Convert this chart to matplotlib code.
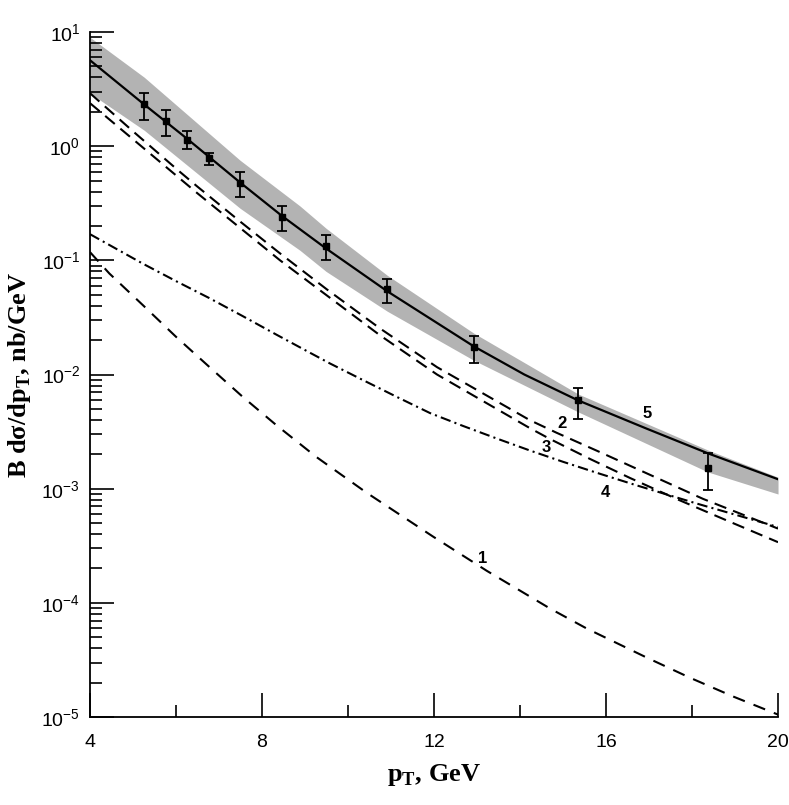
import numpy as np
import matplotlib
matplotlib.use("Agg")
import matplotlib.pyplot as plt
from matplotlib.ticker import FixedLocator, FuncFormatter, NullFormatter

plt.rcParams['font.family'] = ['Liberation Sans', 'DejaVu Sans']
plt.rcParams['mathtext.fontset'] = 'custom'
plt.rcParams['mathtext.rm'] = 'Liberation Serif:bold'
plt.rcParams['mathtext.sf'] = 'Liberation Sans'

# data points with error bars
pt_x = [5.26, 5.76, 6.26, 6.76, 7.49, 8.47, 9.49, 10.91, 12.92, 15.34, 18.37]
pt_y = [2.33, 1.67, 1.14, 0.79, 0.478, 0.238, 0.133, 0.056, 0.0175, 0.00597, 0.00153]
pt_hi = [2.93, 2.09, 1.36, 0.875, 0.596, 0.298, 0.166, 0.0693, 0.0217, 0.00766, 0.00206]
pt_lo = [1.69, 1.23, 0.95, 0.68, 0.357, 0.18, 0.100, 0.0419, 0.0125, 0.00408, 0.00097]

# curve 5 (solid) and its gray band
c5_x = [4.0, 5.26, 6.26, 7.49, 8.47, 9.49, 10.91, 12.92, 14.1, 15.34, 16.95, 18.37, 20.0]
c5_y = [5.66, 2.32, 1.16, 0.481, 0.244, 0.127, 0.0537, 0.0177, 0.0100, 0.00596, 0.00335, 0.00204, 0.00121]
band_x = [4.0, 5.26, 7.49, 8.88, 9.49, 10.91, 12.92, 15.36, 18.37, 20.0]
band_hi = [9.0, 4.02, 0.753, 0.30, 0.191, 0.0741, 0.0231, 0.00673, 0.00218, 0.00126]
band_lo = [2.91, 1.38, 0.286, 0.1227, 0.080, 0.0359, 0.01336, 0.00469, 0.0014, 0.000898]

# curve 2 (dashed, upper)
c2_x = [4.0, 5.0, 6.09, 6.49, 7.49, 8.42, 9.51, 10.74, 12.07, 14.23, 14.85, 15.86, 16.86, 18.26, 20.0]
c2_y = [2.91, 1.35, 0.596, 0.445, 0.219, 0.115, 0.0556, 0.0254, 0.0116, 0.00398, 0.00309, 0.00209,
        0.00141, 0.000813, 0.000447]

# curve 3 (dashed, lower)
c3_x = [4.0, 5.0, 6.49, 8.42, 10.74, 12.07, 14.23, 14.7, 15.63, 16.56, 17.64, 18.88, 20.0]
c3_y = [2.38, 1.15, 0.389, 0.100, 0.0221, 0.0100, 0.00339, 0.00272, 0.00182, 0.00124, 0.000813,
        0.000513, 0.00034]

# curve 4 (dash-dot)
c4_x = [4.0, 5.23, 6.0, 6.77, 7.55, 8.33, 9.09, 9.58, 10.35, 11.13, 11.91, 12.67, 13.46, 14.23,
        15.0, 15.78, 16.71, 18.11, 19.35, 20.0]
c4_y = [0.1695, 0.0935, 0.0658, 0.0468, 0.0325, 0.0224, 0.0157, 0.0125, 0.00893, 0.00638, 0.00459,
        0.00355, 0.00275, 0.00216, 0.00172, 0.00138, 0.00107, 0.000741, 0.000543, 0.000462]

# curve 1 (dashed, lowest)
c1_x = [4.0, 4.45, 5.23, 6.0, 6.77, 7.55, 8.33, 9.26, 10.43, 11.98, 13.23, 14.7, 15.55, 16.95,
        17.95, 18.96, 20.0]
c1_y = [0.118, 0.0767, 0.0405, 0.0214, 0.0117, 0.00638, 0.00361, 0.0019, 0.000923, 0.000380,
        0.0001905, 0.0000891, 0.0000596, 0.0000331, 0.0000221, 0.0000151, 0.0000105]

# curve labels
lab_txt = ['1', '2', '3', '4', '5']
lab_x = [13.14, 14.98, 14.6, 15.98, 16.95]
lab_y = [0.000247, 0.00375, 0.00231, 0.000933, 0.00459]

# axis ticks
x_major = [4, 8, 12, 16, 20]
x_minor = [6, 10, 14, 18]
y_exp = [-5, -4, -3, -2, -1, 0, 1]

fig = plt.figure(figsize=(7.89, 8.05), dpi=100)
ax = fig.add_axes([0.1141, 0.1093, 0.8720, 0.8509])

ax.fill_between(band_x, band_lo, band_hi, color='#b3b3b3', lw=0, zorder=1)
ax.plot(c5_x, c5_y, color='black', lw=1.6, zorder=4)
ax.plot(c2_x, c2_y, color='black', lw=1.5, dashes=(6, 3.5), zorder=3)
ax.plot(c3_x, c3_y, color='black', lw=1.5, dashes=(6, 3.5), zorder=3)
ax.plot(c4_x, c4_y, color='black', lw=1.5, dashes=(5, 2, 1, 2), zorder=3)
ax.plot(c1_x, c1_y, color='black', lw=1.5, dashes=(6, 4.5), zorder=3)

yerr = [np.array(pt_y) - np.array(pt_lo), np.array(pt_hi) - np.array(pt_y)]
ax.errorbar(pt_x, pt_y, yerr=yerr, fmt='s', color='black', ms=4.5, capsize=3.5,
            elinewidth=1.3, capthick=1.3, zorder=5)

for t, x, y in zip(lab_txt, lab_x, lab_y):
    ax.text(x, y, t, fontsize=12, fontweight='bold', ha='center', va='center')

ax.set_yscale('log')
ax.set_xlim(4, 20)
ax.set_ylim(1e-5, 10)

ax.xaxis.set_major_locator(FixedLocator(x_major))
ax.xaxis.set_minor_locator(FixedLocator(x_minor))
ax.yaxis.set_major_locator(FixedLocator([10.0 ** e for e in y_exp]))
y_min = [m * 10.0 ** e for e in y_exp[:-1] for m in range(2, 10)]
ax.yaxis.set_minor_locator(FixedLocator(y_min))
ax.yaxis.set_minor_formatter(NullFormatter())
ax.yaxis.set_major_formatter(FuncFormatter(lambda v, p: r'$\mathsf{10^{%d}}$' % round(np.log10(v))))

ax.tick_params(which='major', direction='in', length=17, width=1.2, labelsize=14)
ax.tick_params(which='minor', direction='in', length=8.5, width=1.2)
ax.tick_params(axis='x', which='major', pad=12)
ax.tick_params(axis='y', which='major', pad=7)
ax.spines['top'].set_visible(False)
ax.spines['right'].set_visible(False)
ax.spines['left'].set_linewidth(1.3)
ax.spines['bottom'].set_linewidth(1.3)

ax.set_xlabel(r'p$_\mathrm{T}$, GeV', family='Liberation Serif', fontweight='bold', fontsize=19, labelpad=8)
ax.set_ylabel('B d\u03c3/dp$_\\mathrm{T}$, nb/GeV', family='Liberation Serif', fontweight='bold',
              fontsize=19)
ax.yaxis.set_label_coords(-0.083, 0.5)

fig.savefig('out.png', dpi=100)
